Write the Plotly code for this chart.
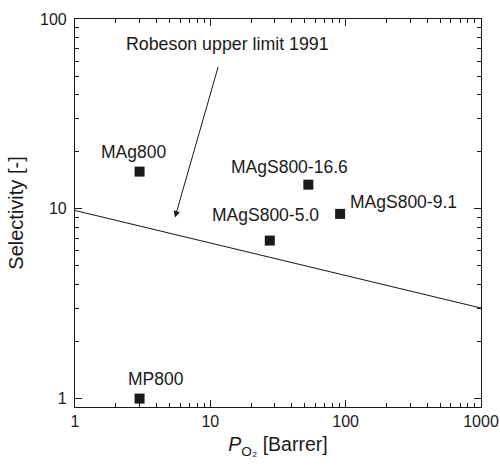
import math
import plotly.graph_objects as go

# Data
samples = ["MAg800", "MAgS800-16.6", "MAgS800-9.1", "MAgS800-5.0", "MP800"]
permeability = [3.0, 53.0, 91.0, 27.5, 3.0]
selectivity = [15.7, 13.4, 9.4, 6.8, 1.0]

robeson_x = [1, 1000]
robeson_y = [9.8, 3.0]

x_major = [1, 10, 100, 1000]
y_major = [1, 10, 100]

# label placement (pixel offsets from marker, anchor)
label_shift = {
    "MAg800": (-6, 20, "center"),
    "MAgS800-16.6": (-19, 18, "center"),
    "MAgS800-9.1": (8, 12, "left"),
    "MAgS800-5.0": (-4, 26, "center"),
    "MP800": (16, 20, "center"),
}

FONT = "Liberation Sans, Arial, Helvetica, sans-serif"

fig = go.Figure()
fig.add_trace(go.Scatter(x=robeson_x, y=robeson_y, mode="lines",
                         line=dict(color="#1a1a1a", width=1.2), showlegend=False))
fig.add_trace(go.Scatter(x=permeability, y=selectivity, mode="markers",
                         marker=dict(symbol="square", size=10, color="#1a1a1a"),
                         showlegend=False))

annotations = []
for name, px, sy in zip(samples, permeability, selectivity):
    dx, dy, anc = label_shift[name]
    annotations.append(dict(x=math.log10(px), y=math.log10(sy), xref="x", yref="y",
                            text=name, showarrow=False, xshift=dx, yshift=dy,
                            xanchor=anc, yanchor="middle",
                            font=dict(size=17.5, color="#1a1a1a", family=FONT)))

annotations.append(dict(x=math.log10(13.3), y=math.log10(74), xref="x", yref="y",
                        text="Robeson upper limit 1991", showarrow=False,
                        font=dict(size=17.8, color="#1a1a1a", family=FONT)))
annotations.append(dict(x=math.log10(5.48), y=math.log10(9.0), xref="x", yref="y",
                        ax=math.log10(11.5), ay=math.log10(56.9), axref="x", ayref="y",
                        text="", showarrow=True, arrowhead=2, arrowsize=1.3,
                        arrowwidth=1, arrowcolor="#1a1a1a"))

def minor_vals(lo, hi):
    vals = []
    for d in range(lo, hi):
        for m in range(2, 10):
            vals.append(m * 10 ** d)
    return vals

fig.update_layout(
    width=500, height=467,
    margin=dict(l=75, r=19, t=19, b=60, autoexpand=False),
    paper_bgcolor="white", plot_bgcolor="white",
    font=dict(family=FONT, size=16, color="#1a1a1a"),
    annotations=annotations,
    xaxis=dict(type="log", range=[0, 3], tickvals=x_major,
               ticktext=[str(v) for v in x_major], automargin=False,
               ticks="inside", ticklen=7, tickwidth=1, tickcolor="#1a1a1a",
               minor=dict(tickvals=minor_vals(0, 3), ticks="inside", ticklen=4,
                          tickwidth=1, tickcolor="#1a1a1a", showgrid=False),
               showline=True, linecolor="#1a1a1a", linewidth=1.2, mirror="allticks",
               showgrid=False, zeroline=False,
               tickfont=dict(size=16),
               title=dict(text="<i>P</i><sub>O₂</sub> [Barrer]",
                          font=dict(size=19.5), standoff=8)),
    yaxis=dict(type="log", range=[math.log10(0.903), 2], tickvals=y_major,
               ticktext=[str(v) for v in y_major], automargin=False,
               ticks="inside", ticklen=7, tickwidth=1, tickcolor="#1a1a1a",
               minor=dict(tickvals=minor_vals(0, 2), ticks="inside", ticklen=4,
                          tickwidth=1, tickcolor="#1a1a1a", showgrid=False),
               showline=True, linecolor="#1a1a1a", linewidth=1.2, mirror="allticks",
               showgrid=False, zeroline=False,
               tickfont=dict(size=16), ticklabelstandoff=4,
               title=dict(text="Selectivity [-]", font=dict(size=20), standoff=10)),
)

fig.write_html("out.html")
